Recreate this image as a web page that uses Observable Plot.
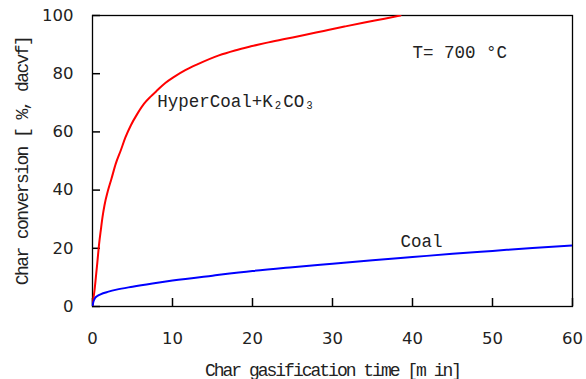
<!DOCTYPE html>
<html><head><meta charset="utf-8">
<script src="https://cdn.jsdelivr.net/npm/d3@7"></script>
<script src="https://cdn.jsdelivr.net/npm/@observablehq/plot@0.6"></script>
<style>
body{margin:0;background:#fff}
</style>
</head><body>
<div id="chart"></div>
<script>
// Char gasification at 700 °C
const hyperTime = [0, 0.1, 0.25, 0.42, 0.6, 0.83, 1.05, 1.25, 1.5, 1.9, 2.37, 2.9, 3.54, 4.1, 4.8, 5.6, 6.45, 7.3, 8.1, 9.1, 10.2, 11.6, 13.1, 15.8, 17.8, 19.8, 21.7, 24, 26.5, 28.9, 31.5, 34, 36.5, 38.5];
const hyperConv = [0, 2.5, 5.5, 10, 15, 21.6, 26.5, 30.7, 34.8, 39.5, 43.9, 49, 53.7, 58, 62.3, 66.2, 69.7, 72.2, 74.3, 76.8, 78.9, 81.2, 83.2, 86.3, 88, 89.4, 90.6, 91.9, 93.3, 94.7, 96.2, 97.6, 98.9, 100];
const coalTime = [0, 0.1, 0.3, 0.6, 1, 2, 3, 5, 7.5, 10, 15, 20, 25, 30, 35, 40, 45, 50, 55, 60];
const coalConv = [0, 1.5, 2.8, 3.6, 4.2, 5.1, 5.8, 6.8, 7.9, 8.9, 10.6, 12.2, 13.5, 14.7, 15.9, 17.0, 18.1, 19.1, 20.1, 21.0];
const xTicks = [0, 10, 20, 30, 40, 50, 60];
const yTicks = [0, 20, 40, 60, 80, 100];
const xTitle = "Char gasification time [m in]";
const yTitle = "Char conversion [ %, dacvf]";
const labelText = ["T= 700 °C", "HyperCoal+K₂CO₃", "Coal"];
const labelX = [40, 8.1, 38.5];
const labelY = [87.3, 70.5, 22.4];

const hyper = hyperTime.map((t, i) => ({t, v: hyperConv[i]}));
const coal = coalTime.map((t, i) => ({t, v: coalConv[i]}));
const labels = labelText.map((s, i) => ({s, x: labelX[i], y: labelY[i]}));

const W = 586, H = 379, mL = 92, mR = 14, mT = 15, mB = 73, tickLen = 8;
const frameW = W - mL - mR, frameH = H - mT - mB;
const xDomain = [0, 60], yDomain = [0, 100];
// tick length expressed in data units of each scale
const xTickData = tickLen * (xDomain[1] - xDomain[0]) / frameW;
const yTickData = tickLen * (yDomain[1] - yDomain[0]) / frameH;

const chart = Plot.plot({
  width: W, height: H,
  marginLeft: mL, marginRight: mR, marginTop: mT, marginBottom: mB,
  style: {fontFamily: "DejaVu Sans", fontSize: "16.5px", color: "#222", background: "#fff"},
  x: {domain: xDomain},
  y: {domain: yDomain},
  marks: [
    Plot.frame({stroke: "#000", strokeWidth: 1.3, fill: "none"}),
    Plot.axisX({ticks: xTicks, tickSize: 0, tickPadding: 26, label: null}),
    Plot.axisY({ticks: yTicks, tickSize: 0, tickPadding: 19, label: null}),
    Plot.ruleX(xTicks, {x: d => d, y1: yDomain[0], y2: yDomain[0] + yTickData, stroke: "#000", strokeWidth: 1.5}),
    Plot.ruleY(yTicks, {y: d => d, x1: xDomain[0], x2: xDomain[0] + xTickData, stroke: "#000", strokeWidth: 1.5}),
    Plot.line(hyper, {x: "t", y: "v", stroke: "#ff0000", strokeWidth: 2, curve: "monotone-x", clip: true}),
    Plot.line(coal, {x: "t", y: "v", stroke: "#0000ff", strokeWidth: 2, curve: "monotone-x", clip: true}),
    Plot.text(labels, {x: "x", y: "y", text: "s", textAnchor: "start", fontFamily: "Liberation Mono", fontSize: 17.5, fill: "#222"}),
    Plot.text([xTitle], {text: d => d, frameAnchor: "bottom", dy: 69, lineAnchor: "bottom", textAnchor: "middle", fontFamily: "Liberation Mono", fontSize: 18, fill: "#222"}),
    Plot.text([yTitle], {text: d => d, frameAnchor: "left", dx: -70, rotate: -90, textAnchor: "middle", lineAnchor: "middle", fontFamily: "Liberation Mono", fontSize: 18, fill: "#222"})
  ]
});
d3.select(chart).selectAll("text").each(function () {
  const t = this.textContent;
  if (t === xTitle) this.style.letterSpacing = "-2px";
  if (t === yTitle) this.style.letterSpacing = "-1.6px";
});
document.getElementById("chart").append(chart);
</script>
</body></html>
